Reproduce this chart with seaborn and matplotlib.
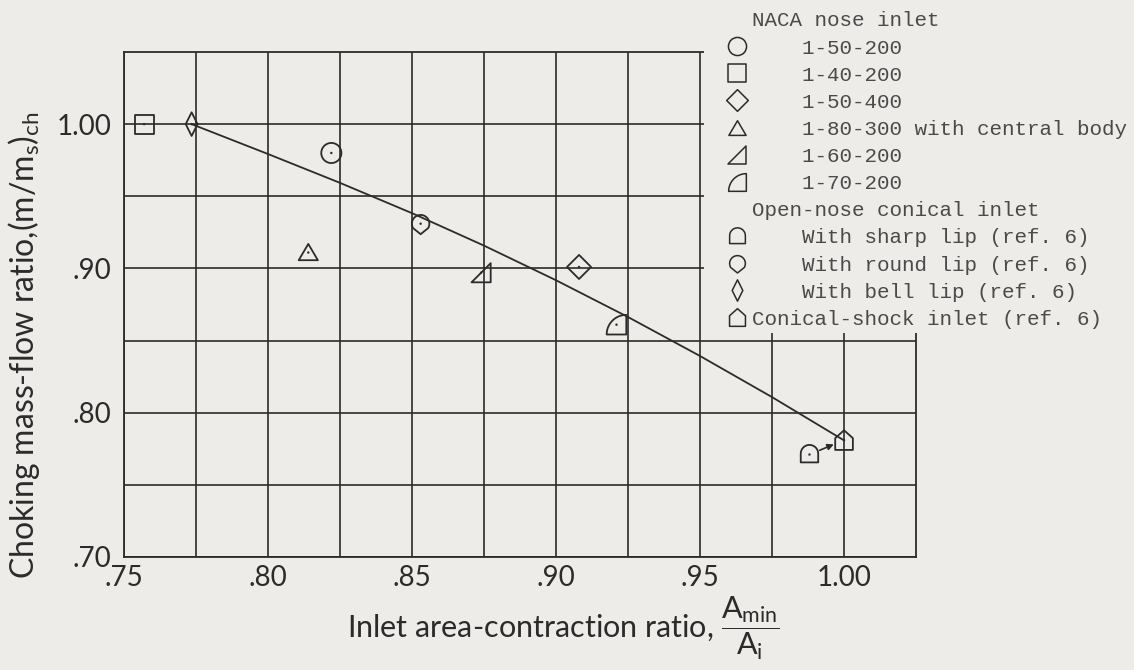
import numpy as np
import matplotlib
matplotlib.use("Agg")
import matplotlib.pyplot as plt
import seaborn as sns
from matplotlib.path import Path
from matplotlib.lines import Line2D
from matplotlib.patches import Rectangle

# ---- values ----
# NACA nose inlets
naca_1_50_200_x = [0.822]
naca_1_50_200_y = [0.980]
naca_1_40_200_x = [0.757]
naca_1_40_200_y = [1.000]
naca_1_50_400_x = [0.908]
naca_1_50_400_y = [0.901]
naca_1_80_300_x = [0.814]
naca_1_80_300_y = [0.911]
naca_1_60_200_x = [0.874]
naca_1_60_200_y = [0.897]
naca_1_70_200_x = [0.921]
naca_1_70_200_y = [0.861]
# open-nose conical inlet (sharp lip symbol is drawn offset, arrow points to 1.00)
sharp_lip_x = [0.988]
sharp_lip_y = [0.771]
round_lip_x = [0.853]
round_lip_y = [0.931]
bell_lip_x = [0.7735]
bell_lip_y = [1.000]
# conical-shock inlet
conical_x = [1.000]
conical_y = [0.781]

# faired curve
curve_x = [0.7735, 0.80, 0.825, 0.85, 0.875, 0.90, 0.925, 0.95, 0.975, 1.00]
curve_y = [1.000, 0.9793, 0.9593, 0.9383, 0.9158, 0.8918, 0.8663, 0.8393, 0.8108, 0.7808]

x_ticks = [0.75, 0.80, 0.85, 0.90, 0.95, 1.00]
x_tick_labels = [".75", ".80", ".85", ".90", ".95", "1.00"]
x_minor = [0.775, 0.825, 0.875, 0.925, 0.975]
y_ticks = [0.70, 0.80, 0.90, 1.00]
y_tick_labels = [".70", ".80", ".90", "1.00"]
y_minor = [0.75, 0.85, 0.95]

paper = "#edece9"
ink = "#2b2b2b"


def closed(verts):
    verts = list(verts) + [verts[0]]
    codes = [Path.MOVETO] + [Path.LINETO] * (len(verts) - 2) + [Path.CLOSEPOLY]
    return Path(verts, codes)


def arc_pts(cx, cy, r, a0, a1, n=18):
    t = np.radians(np.linspace(a0, a1, n))
    return [(cx + r * np.cos(a), cy + r * np.sin(a)) for a in t]


# marker shapes
m_square = closed([(-1, -1), (1, -1), (1, 1), (-1, 1)])
m_diamond = closed([(0, -1), (1, 0), (0, 1), (-1, 0)])
m_triangle = closed([(-1, -0.8), (1, -0.8), (0, 0.9)])
m_right_tri = closed([(-1, -1), (1, -1), (1, 1)])
m_quarter = closed([(-1, -1), (1, -1)] + arc_pts(1, -1, 2, 90, 180)[:-1])
m_sharp = closed([(-1, -0.9), (1, -0.9)] + arc_pts(0, 0.1, 1, 0, 180))
m_round = closed([(0, -1.2)] + arc_pts(0, 0, 1, -30, 210))
m_bell = closed([(0, -1.3), (0.65, 0), (0, 1.3), (-0.65, 0)])
m_conical = closed([(-0.9, -1), (0.9, -1), (0.9, 0.2), (0, 1), (-0.9, 0.2)])

series = [
    ("    1-50-200", naca_1_50_200_x, naca_1_50_200_y, "o", 210),
    ("    1-40-200", naca_1_40_200_x, naca_1_40_200_y, m_square, 190),
    ("    1-50-400", naca_1_50_400_x, naca_1_50_400_y, m_diamond, 300),
    ("    1-80-300 with central body", naca_1_80_300_x, naca_1_80_300_y, m_triangle, 190),
    ("    1-60-200", naca_1_60_200_x, naca_1_60_200_y, m_right_tri, 190),
    ("    1-70-200", naca_1_70_200_x, naca_1_70_200_y, m_quarter, 200),
    ("    With sharp lip (ref. 6)", sharp_lip_x, sharp_lip_y, m_sharp, 190),
    ("    With round lip (ref. 6)", round_lip_x, round_lip_y, m_round, 230),
    ("    With bell lip (ref. 6)", bell_lip_x, bell_lip_y, m_bell, 290),
    ("Conical-shock inlet (ref. 6)", conical_x, conical_y, m_conical, 200),
]

sns.set_theme(style="white", rc={"figure.facecolor": paper, "axes.facecolor": paper})
plt.rcParams["font.family"] = ["Lato", "DejaVu Sans"]
plt.rcParams["mathtext.fontset"] = "custom"
plt.rcParams["mathtext.rm"] = "Lato"
plt.rcParams["mathtext.it"] = "Lato:italic"

fig = plt.figure(figsize=(11.34, 6.70), dpi=100)
ax = fig.add_axes([0.1093, 0.1687, 0.6985, 0.7537])

ax.set_xlim(0.75, 1.025)
ax.set_ylim(0.70, 1.05)
ax.set_xticks(x_ticks, x_tick_labels)
ax.set_xticks(x_minor, minor=True)
ax.set_yticks(y_ticks, y_tick_labels)
ax.set_yticks(y_minor, minor=True)
ax.grid(which="both", color=ink, lw=1.2)
ax.tick_params(which="both", length=0)
ax.tick_params(axis="x", pad=6, labelsize=20, labelcolor=ink)
ax.tick_params(axis="y", pad=9, labelsize=20, labelcolor=ink)
for sp in ax.spines.values():
    sp.set_color(ink)
    sp.set_linewidth(1.3)

# faired curve
sns.lineplot(x=curve_x, y=curve_y, sort=False, estimator=None, color=ink, lw=1.3,
             ax=ax, zorder=3)

# data symbols
handles, labels = [], []
for i, (lab, xs, ys, mk, size) in enumerate(series):
    sns.scatterplot(x=xs, y=ys, marker=mk, s=size, facecolor="none", edgecolor=ink,
                    linewidth=1.3, ax=ax, zorder=4, legend=False)
    if i == 0:
        handles.append(Line2D([], [], ls="none"))
        labels.append("NACA nose inlet")
    if i == 6:
        handles.append(Line2D([], [], ls="none"))
        labels.append("Open-nose conical inlet")
    handles.append(Line2D([], [], ls="none", marker=mk, ms=np.sqrt(size) * 0.9,
                          mfc="none", mec=ink, mew=1.1))
    labels.append(lab)

all_x = sum([s[1] for s in series], [])
all_y = sum([s[2] for s in series], [])
sns.scatterplot(x=all_x, y=all_y, s=3, color=ink, edgecolor="none", ax=ax, zorder=5,
                legend=False)

ax.annotate("", xy=(conical_x[0], conical_y[0]), xytext=(sharp_lip_x[0], sharp_lip_y[0]),
            arrowprops=dict(arrowstyle="-|>", color=ink, lw=1.2, shrinkA=8, shrinkB=8,
                            mutation_scale=9), zorder=4)

# the key sits on a blank patch over the upper right corner of the grid
ax.add_patch(Rectangle((0.9515, 0.855), 0.1, 0.25, facecolor=paper, edgecolor="none",
                       zorder=2.7, clip_on=False))
leg = ax.legend(handles, labels, loc="upper left", bbox_to_anchor=(0.6426, 0.983),
                bbox_transform=fig.transFigure, frameon=False,
                prop={"family": "Liberation Mono", "size": 15},
                handlelength=0.8, handletextpad=0.32, labelspacing=0.39,
                borderpad=0, borderaxespad=0)
for t in leg.get_texts():
    t.set_color("#4a4a4a")
leg.set_zorder(6)

ax.set_xlabel(r"Inlet area-contraction ratio, $\dfrac{\mathrm{A_{min}}}{\mathrm{A_i}}$",
              fontsize=22, color=ink)
ax.xaxis.set_label_coords(0.555, -0.076)
ax.set_ylabel(r"Choking mass-flow ratio,$\mathrm{(m/m_s)_{ch}}$", fontsize=23, color=ink)
ax.yaxis.set_label_coords(-0.1035, 0.42)

fig.savefig("out.png", dpi=100, facecolor=paper)
